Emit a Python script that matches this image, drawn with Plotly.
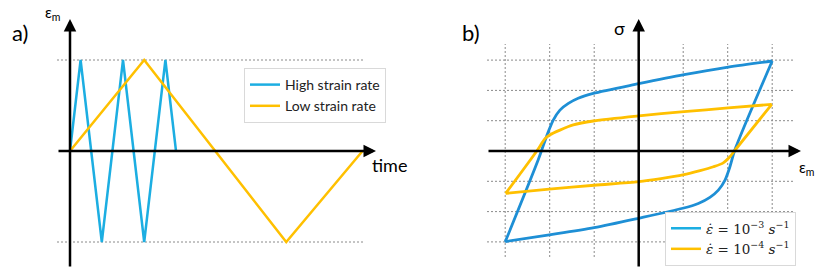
import plotly.graph_objects as go

W, H = 816, 273

# ---------------- Panel a data ----------------
high_t = [0, 1, 3, 5, 7, 9, 10]
high_strain = [0, 1, -1, 1, -1, 1, 0]
low_t = [0, 7, 20.4, 27.6]
low_strain = [0, 1, -1, 0]
strain_levels = [1, -1]
legend_a_names = ["High strain rate", "Low strain rate"]

# ---------------- Panel b data ----------------
fast_up_x = [-3, -2.26, -2.14, -2.03, -1.92, -1.77, -1.58, -1.36, -1.02, 0, 1.02, 2.01, 3]
fast_up_y = [-3, -0.30, 0.20, 0.64, 1.02, 1.35, 1.57, 1.74, 1.90, 2.22, 2.52, 2.77, 2.97]
fast_down_x = [3, 2.16, 2.05, 1.94, 1.79, 1.60, 1.34, 0.99, 0, -1.0, -2.01, -3]
fast_down_y = [2.97, 0.03, -0.52, -0.96, -1.29, -1.53, -1.73, -1.89, -2.22, -2.53, -2.77, -2.99]
slow_up_x = [-2.99, -2.29, -2.11, -2.0, -1.77, -1.47, -1.02, 0, 1.02, 2.01, 2.99]
slow_up_y = [-1.40, 0, 0.40, 0.53, 0.69, 0.86, 0.99, 1.16, 1.30, 1.42, 1.54]
slow_down_x = [2.99, 2.15, 2.05, 1.90, 1.68, 1.38, 0.99, 0.5, 0, -1.0, -2.01, -2.99]
slow_down_y = [1.54, 0, -0.19, -0.39, -0.52, -0.65, -0.79, -0.91, -1.01, -1.13, -1.26, -1.40]
grid_ticks = [-3, -2, -1, 1, 2, 3]
legend_b_names = ["<i>ε̇</i> = 10<sup>−3</sup> <i>s</i><sup>−1</sup>",
                  "<i>ε̇</i> = 10<sup>−4</sup> <i>s</i><sup>−1</sup>"]

BLUE_A = "#1CAEE2"
BLUE_B = "#1E8FD5"
YELLOW = "#FFC000"
GRID = "#8a8a8a"

# pixel geometry -> axis ranges
ax_org, ax_unit = 70.0, 10.6
ay_org, ay_unit = 151.0, 91.0
bx_org, bx_unit = 638.7, 44.5
by_org, by_unit = 151.0, 30.3

def ax_(px): return (px - ax_org) / ax_unit
def ay_(py): return (ay_org - py) / ay_unit
def bx_(px): return (px - bx_org) / bx_unit
def by_(py): return (by_org - py) / by_unit

fig = go.Figure()

# Panel a traces
fig.add_trace(go.Scatter(x=high_t, y=high_strain, mode="lines", name=legend_a_names[0],
                         line=dict(color=BLUE_A, width=2.5), xaxis="x", yaxis="y", legend="legend"))
fig.add_trace(go.Scatter(x=low_t, y=low_strain, mode="lines", name=legend_a_names[1],
                         line=dict(color=YELLOW, width=2.5), xaxis="x", yaxis="y", legend="legend"))

# Panel b traces
for xs, ys, col in [(fast_up_x, fast_up_y, BLUE_B), (fast_down_x, fast_down_y, BLUE_B),
                    (slow_up_x, slow_up_y, YELLOW), (slow_down_x, slow_down_y, YELLOW)]:
    fig.add_trace(go.Scatter(x=xs, y=ys, mode="lines", showlegend=False,
                             line=dict(color=col, width=2.8, shape="spline", smoothing=0.8),
                             xaxis="x2", yaxis="y2"))
# legend entries for panel b
for name, col in zip(legend_b_names, [BLUE_A, YELLOW]):
    fig.add_trace(go.Scatter(x=[None], y=[None], mode="lines", name=name,
                             line=dict(color=col, width=2.5), xaxis="x2", yaxis="y2", legend="legend2"))

shapes = []
# Panel a dotted reference lines
for lv in strain_levels:
    shapes.append(dict(type="line", xref="x", yref="y", x0=ax_(57), x1=ax_(363), y0=lv, y1=lv,
                       line=dict(color=GRID, width=1, dash="2px,2px"), layer="below"))
# Panel b grid
for g in grid_ticks:
    shapes.append(dict(type="line", xref="x2", yref="y2", x0=g, x1=g, y0=by_(257), y1=by_(44),
                       line=dict(color=GRID, width=1, dash="2px,2px"), layer="below"))
    shapes.append(dict(type="line", xref="x2", yref="y2", x0=bx_(487), x1=bx_(793), y0=g, y1=g,
                       line=dict(color=GRID, width=1, dash="2px,2px"), layer="below"))

annotations = []
def arrow(xref, yref, x, y, axv, ayv):
    annotations.append(dict(xref=xref, yref=yref, axref=xref, ayref=yref, x=x, y=y, ax=axv, ay=ayv,
                            text="", showarrow=True, arrowhead=2, arrowsize=1, arrowwidth=2.5,
                            arrowcolor="black", standoff=0, startstandoff=0))
# Panel a axes
arrow("x", "y", 0, ay_(19), 0, ay_(268))
arrow("x", "y", ax_(376), 0, ax_(57), 0)
# Panel b axes
arrow("x2", "y2", 0, by_(19), 0, by_(268))
arrow("x2", "y2", bx_(801), 0, bx_(487), 0)

def label(text, px, py, size, family="Lato", xanchor="center"):
    annotations.append(dict(xref="paper", yref="paper", x=px / W, y=1 - py / H, text=text,
                            showarrow=False, xanchor=xanchor, yanchor="middle",
                            font=dict(size=size, family=family, color="black")))

label("a)", 20, 32, 22)
label("ε<sub>m</sub>", 52, 13, 15)
label("time", 389, 165, 18)
label("b)", 471, 32, 22)
label("σ", 619, 28, 18)
label("ε<sub>m</sub>", 806, 168, 15)

fig.update_layout(
    width=W, height=H,
    margin=dict(l=0, r=0, t=0, b=0),
    paper_bgcolor="white", plot_bgcolor="white",
    xaxis=dict(domain=[0, 0.5], range=[ax_(0), ax_(408)], visible=False),
    yaxis=dict(domain=[0, 1], range=[ay_(273), ay_(0)], visible=False),
    xaxis2=dict(domain=[0.5, 1], range=[bx_(408), bx_(816)], visible=False),
    yaxis2=dict(domain=[0, 1], range=[by_(273), by_(0)], visible=False, anchor="x2"),
    shapes=shapes,
    annotations=annotations,
    legend=dict(x=244 / W, y=1 - 68 / H, xanchor="left", yanchor="top",
                bgcolor="white", bordercolor="#d9d9d9", borderwidth=1,
                font=dict(family="Lato", size=14, color="#222"), itemwidth=30),
    legend2=dict(x=665 / W, y=1 - 212 / H, xanchor="left", yanchor="top",
                 bgcolor="white", bordercolor="#d9d9d9", borderwidth=1,
                 font=dict(family="DejaVu Serif", size=13.5, color="#222"), itemwidth=30),
)

fig.write_html("out.html", config={"displayModeBar": False},
               post_script="document.body.style.margin='0';document.body.style.overflow='hidden';")
